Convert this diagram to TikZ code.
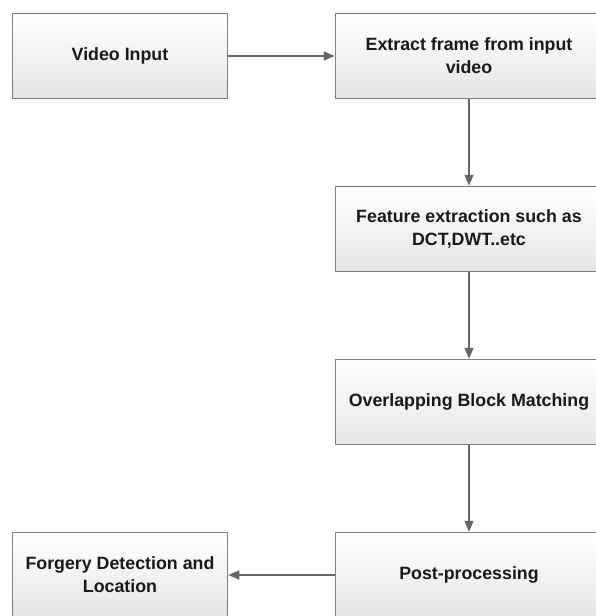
\documentclass[tikz,border=0pt]{standalone}
\usepackage{fontspec}
\setmainfont{Liberation Sans}
\usepackage{tikz}
\usetikzlibrary{arrows.meta}
\tikzset{
    stage/.style={draw=black!50, line width=1.5pt, top color=white, bottom color=black!10,
      minimum height=85pt, align=center, text=black!90,
      font=\fontsize{17.8}{23}\selectfont\bfseries},
    smallstage/.style={stage, minimum width=215pt},
    widestage/.style={stage, minimum width=267pt},
    flow/.style={draw=black!60, line width=1.4pt, -{Triangle[length=11pt, width=9pt]}}
}
\begin{document}
\begin{tikzpicture}[x=1pt,y=-1pt]
                \path [use as bounding box] (0,0) rectangle (596,616);
                \clip (0,0) rectangle (596,616);
                \fill [white] (0,0) rectangle (596,616);
                \node [smallstage] (input) at (120,56) {Video Input};
                \node [widestage] (extract) at (469,56) {Extract frame from input\\video};
                \node [widestage] (feature) at (469,229) {Feature extraction such as\\DCT,DWT..etc};
                \node [widestage] (matching) at (469,402) {Overlapping Block Matching};
                \node [widestage] (post) at (469,575) {Post-processing};
                \node [smallstage] (forgery) at (120,575) {Forgery Detection and\\Location};
                % connectors
                \draw [flow] (input) -- (extract);
                \draw [flow] (extract) -- (feature);
                \draw [flow] (feature) -- (matching);
                \draw [flow] (matching) -- (post);
                \draw [flow] (post) -- (forgery);
      \end{tikzpicture}
\end{document}
